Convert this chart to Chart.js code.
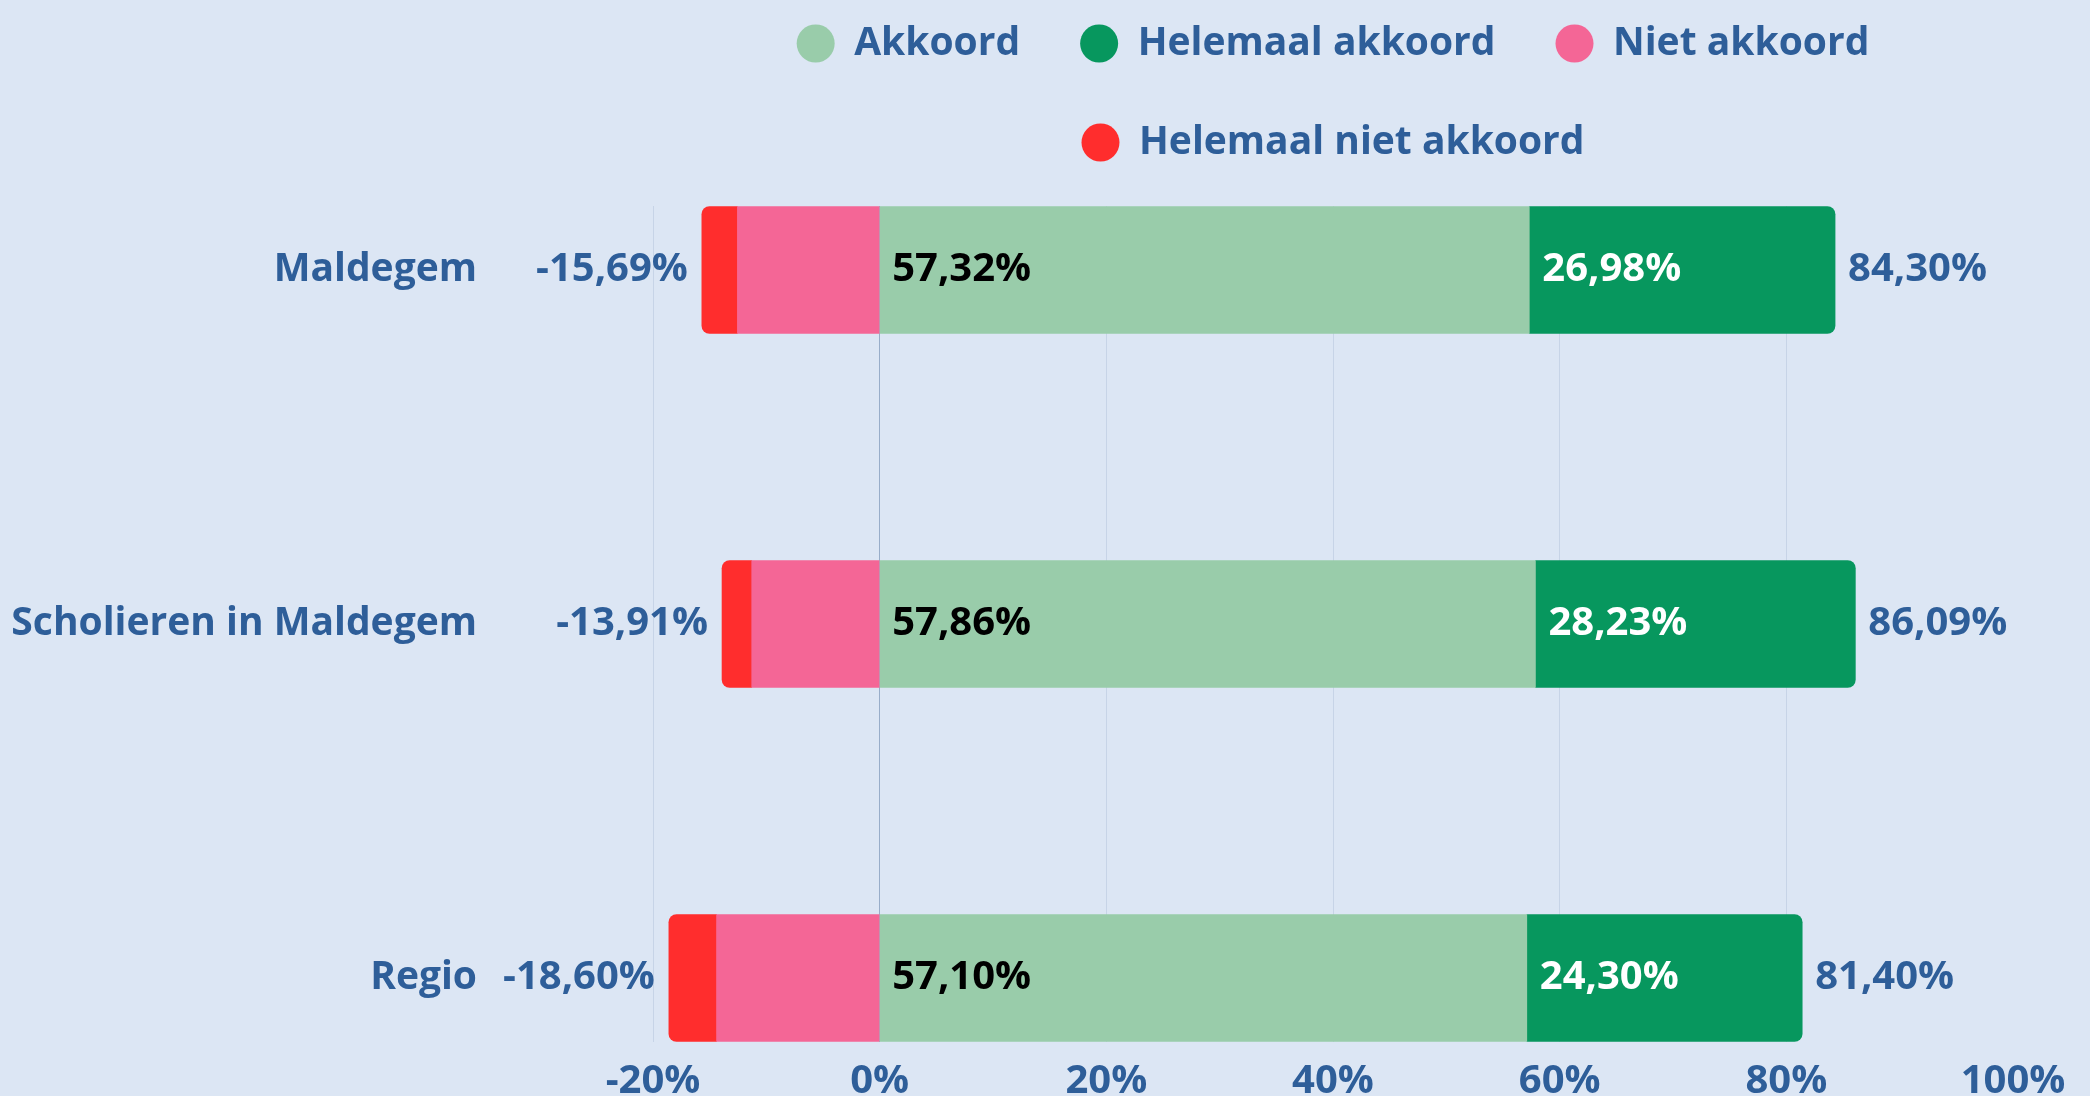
<!DOCTYPE html>
<html>
<head>
<meta charset="utf-8">
<script src="https://cdn.jsdelivr.net/npm/chart.js@4"></script>
<style>
  html, body { margin: 0; padding: 0; background: #dce6f4; }
  #wrap { width: 2090px; height: 1096px; position: relative; }
</style>
</head>
<body>
<div id="wrap"><canvas id="barChart"></canvas></div>
<script>
// data (percentages)
const categories = ['Maldegem', 'Scholieren in Maldegem', 'Regio'];
const akkoord = [57.32, 57.86, 57.10];
const helemaalAkkoord = [26.98, 28.23, 24.30];
const nietAkkoord = [12.55, 11.29, 14.39];
const helemaalNietAkkoord = [3.14, 2.62, 4.21];
const xTicks = [-20, 0, 20, 40, 60, 80, 100];

const blue = '#2e5e99';
const gridColor = '#c7d4e7';
const zeroColor = '#98adc9';
const fontFamily = '"Open Sans", Lato, sans-serif';

const fmt = v => v.toFixed(2).replace('.', ',') + '%';

// grid colour per tick: darker zero line, no line at 100%
const tickColor = ctx => {
    const v = ctx.tick ? ctx.tick.value : null;
    if (v === 0) return zeroColor;
    if (v === xTicks[xTicks.length - 1]) return 'rgba(0,0,0,0)';
    return gridColor;
};

// labels inside and next to the bars
const valueLabels = {
    id: 'valueLabels',
    afterDatasetsDraw(chart) {
        const ctx = chart.ctx;
        const mA = chart.getDatasetMeta(0).data;
        const mHA = chart.getDatasetMeta(1).data;
        const mHN = chart.getDatasetMeta(3).data;
        ctx.save();
        ctx.font = 'bold 40px ' + fontFamily;
        ctx.textBaseline = 'middle';
        categories.forEach((c, i) => {
            ctx.textAlign = 'left';
            ctx.fillStyle = '#000000';
            ctx.fillText(fmt(akkoord[i]), mA[i].base + 12, mA[i].y);
            ctx.fillStyle = '#ffffff';
            ctx.fillText(fmt(helemaalAkkoord[i]), mHA[i].base + 13, mHA[i].y);
            ctx.fillStyle = blue;
            ctx.fillText(fmt(akkoord[i] + helemaalAkkoord[i]), mHA[i].x + 13, mHA[i].y);
            ctx.textAlign = 'right';
            ctx.fillText(fmt(-(nietAkkoord[i] + helemaalNietAkkoord[i])), mHN[i].x - 14, mHN[i].y);
        });
        ctx.restore();
    }
};

const ctx = document.getElementById('barChart').getContext('2d');

const chart = new Chart(ctx, {
    type: 'bar',
    data: {
        labels: categories,
        datasets: [
            {
                label: 'Akkoord',
                data: akkoord,
                backgroundColor: '#99ccaa',
                borderRadius: 0
            },
            {
                label: 'Helemaal akkoord',
                data: helemaalAkkoord,
                backgroundColor: '#07975e',
                borderRadius: { topLeft: 0, bottomLeft: 0, topRight: 8, bottomRight: 8 }
            },
            {
                label: 'Niet akkoord',
                data: nietAkkoord.map(v => -v),
                backgroundColor: '#f46696',
                borderRadius: 0
            },
            {
                label: 'Helemaal niet akkoord',
                data: helemaalNietAkkoord.map(v => -v),
                backgroundColor: '#ff2d2d',
                borderRadius: { topLeft: 8, bottomLeft: 8, topRight: 0, bottomRight: 0 }
            }
        ]
    },
    options: {
        indexAxis: 'y',
        responsive: true,
        maintainAspectRatio: false,
        animation: false,
        datasets: {
            bar: {
                barThickness: 127,
                borderWidth: 0,
                borderSkipped: false,
                clip: false
            }
        },
        layout: {
            padding: { top: -36, right: 77, bottom: 0, left: 0 }
        },
        plugins: {
            tooltip: { enabled: false },
            legend: {
                position: 'top',
                fullSize: false,
                labels: {
                    usePointStyle: true,
                    pointStyle: 'circle',
                    boxHeight: 27,
                    pointStyleWidth: 38,
                    padding: 60,
                    color: blue,
                    font: { family: fontFamily, size: 39, weight: 'bold' }
                }
            }
        },
        scales: {
            x: {
                stacked: true,
                min: xTicks[0],
                max: xTicks[xTicks.length - 1],
                border: { display: false },
                grid: {
                    color: tickColor,
                    tickColor: tickColor,
                    tickLength: 64
                },
                ticks: {
                    stepSize: 20,
                    padding: 16,
                    color: blue,
                    font: { family: fontFamily, size: 40, weight: 'bold' },
                    callback: v => v + '%'
                },
                afterFit: s => { s.height = 118; }
            },
            xTop: {
                type: 'linear',
                position: 'top',
                min: xTicks[0],
                max: xTicks[xTicks.length - 1],
                border: { display: false },
                grid: {
                    drawOnChartArea: false,
                    color: tickColor,
                    tickColor: tickColor,
                    tickLength: 64
                },
                ticks: { display: false, stepSize: 20 },
                afterFit: s => { s.height = 98; }
            },
            y: {
                stacked: true,
                offset: false,
                border: { display: false },
                grid: { display: false, drawTicks: false },
                ticks: {
                    padding: 176,
                    color: blue,
                    font: { family: fontFamily, size: 39, weight: 'bold' }
                },
                afterFit: s => {
                    s.width = 653;
                    s.paddingTop = 0;
                    s.paddingBottom = 0;
                }
            }
        }
    },
    plugins: [valueLabels]
});
</script>
</body>
</html>
